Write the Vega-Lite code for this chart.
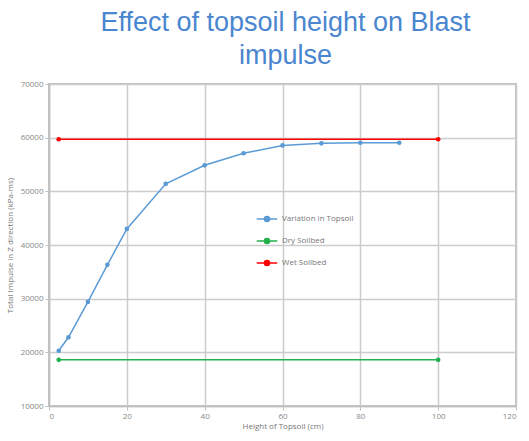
{
  "$schema": "https://vega.github.io/schema/vega-lite/v6.json",
  "width": 467,
  "height": 322,
  "autosize": {"type": "none"},
  "padding": {"left": 49, "top": 84, "right": 13, "bottom": 35},
  "background": "white",
  "title": {
    "text": ["Effect of topsoil height on Blast", "impulse"],
    "fontSize": 27,
    "font": "Liberation Sans",
    "fontWeight": "normal",
    "color": "#4a86d0",
    "lineHeight": 33,
    "anchor": "middle",
    "dx": 3,
    "offset": 10
  },
  "data": {
    "values": [
      {"series": "Variation in Topsoil", "h": 2.5, "impulse": 20300},
      {"series": "Variation in Topsoil", "h": 5, "impulse": 22800},
      {"series": "Variation in Topsoil", "h": 10, "impulse": 29400},
      {"series": "Variation in Topsoil", "h": 15, "impulse": 36300},
      {"series": "Variation in Topsoil", "h": 20, "impulse": 43000},
      {"series": "Variation in Topsoil", "h": 30, "impulse": 51400},
      {"series": "Variation in Topsoil", "h": 40, "impulse": 54850},
      {"series": "Variation in Topsoil", "h": 50, "impulse": 57100},
      {"series": "Variation in Topsoil", "h": 60, "impulse": 58550},
      {"series": "Variation in Topsoil", "h": 70, "impulse": 58950},
      {"series": "Variation in Topsoil", "h": 80, "impulse": 59050},
      {"series": "Variation in Topsoil", "h": 90, "impulse": 59050},
      {"series": "Dry Soilbed", "h": 2.5, "impulse": 18600},
      {"series": "Dry Soilbed", "h": 100, "impulse": 18600},
      {"series": "Wet Soilbed", "h": 2.5, "impulse": 59700},
      {"series": "Wet Soilbed", "h": 100, "impulse": 59700}
    ]
  },
  "mark": {"type": "line", "strokeWidth": 1.5, "point": {"filled": true, "size": 22}},
  "encoding": {
    "x": {
      "field": "h",
      "type": "quantitative",
      "scale": {"domain": [0, 120], "nice": false},
      "axis": {
        "title": "Height of Topsoil (cm)",
        "values": [0, 20, 40, 60, 80, 100, 120],
        "titleFontSize": 8,
        "titleFontWeight": "normal",
        "titleColor": "#777777",
        "titlePadding": 2,
        "labelFontSize": 8,
        "labelColor": "#888888"
      }
    },
    "y": {
      "field": "impulse",
      "type": "quantitative",
      "scale": {"domain": [10000, 70000], "nice": false},
      "axis": {
        "title": "Total Impulse in Z direction (kPa-ms)",
        "values": [10000, 20000, 30000, 40000, 50000, 60000, 70000],
        "format": "d",
        "titleFontSize": 8,
        "titleFontWeight": "normal",
        "titleColor": "#777777",
        "titlePadding": 6,
        "labelFontSize": 8,
        "labelColor": "#888888"
      }
    },
    "color": {
      "field": "series",
      "type": "nominal",
      "scale": {
        "domain": ["Variation in Topsoil", "Dry Soilbed", "Wet Soilbed"],
        "range": ["#5b9bd5", "#22b14c", "#ff0000"]
      },
      "legend": {
        "title": null,
        "orient": "none",
        "legendX": 207,
        "legendY": 124,
        "labelFontSize": 8,
        "labelColor": "#777777",
        "rowPadding": 5,
        "symbolType": "M-1,0H1M0.25,0A0.25,0.25,0,1,1,-0.25,0A0.25,0.25,0,1,1,0.25,0",
        "symbolSize": 420,
        "symbolStrokeWidth": 1.5,
        "encode": {
          "symbols": {"update": {"fill": {"scale": "color", "field": "value"}}}
        }
      }
    }
  },
  "config": {
    "font": "Open Sans",
    "view": {"stroke": "#c0c0c0", "strokeWidth": 2},
    "axis": {
      "grid": true,
      "gridColor": "#cccccc",
      "gridWidth": 1.5,
      "domainColor": "#c0c0c0",
      "domainWidth": 1.5,
      "tickColor": "#c0c0c0",
      "tickSize": 4,
      "labelPadding": 2
    }
  }
}
